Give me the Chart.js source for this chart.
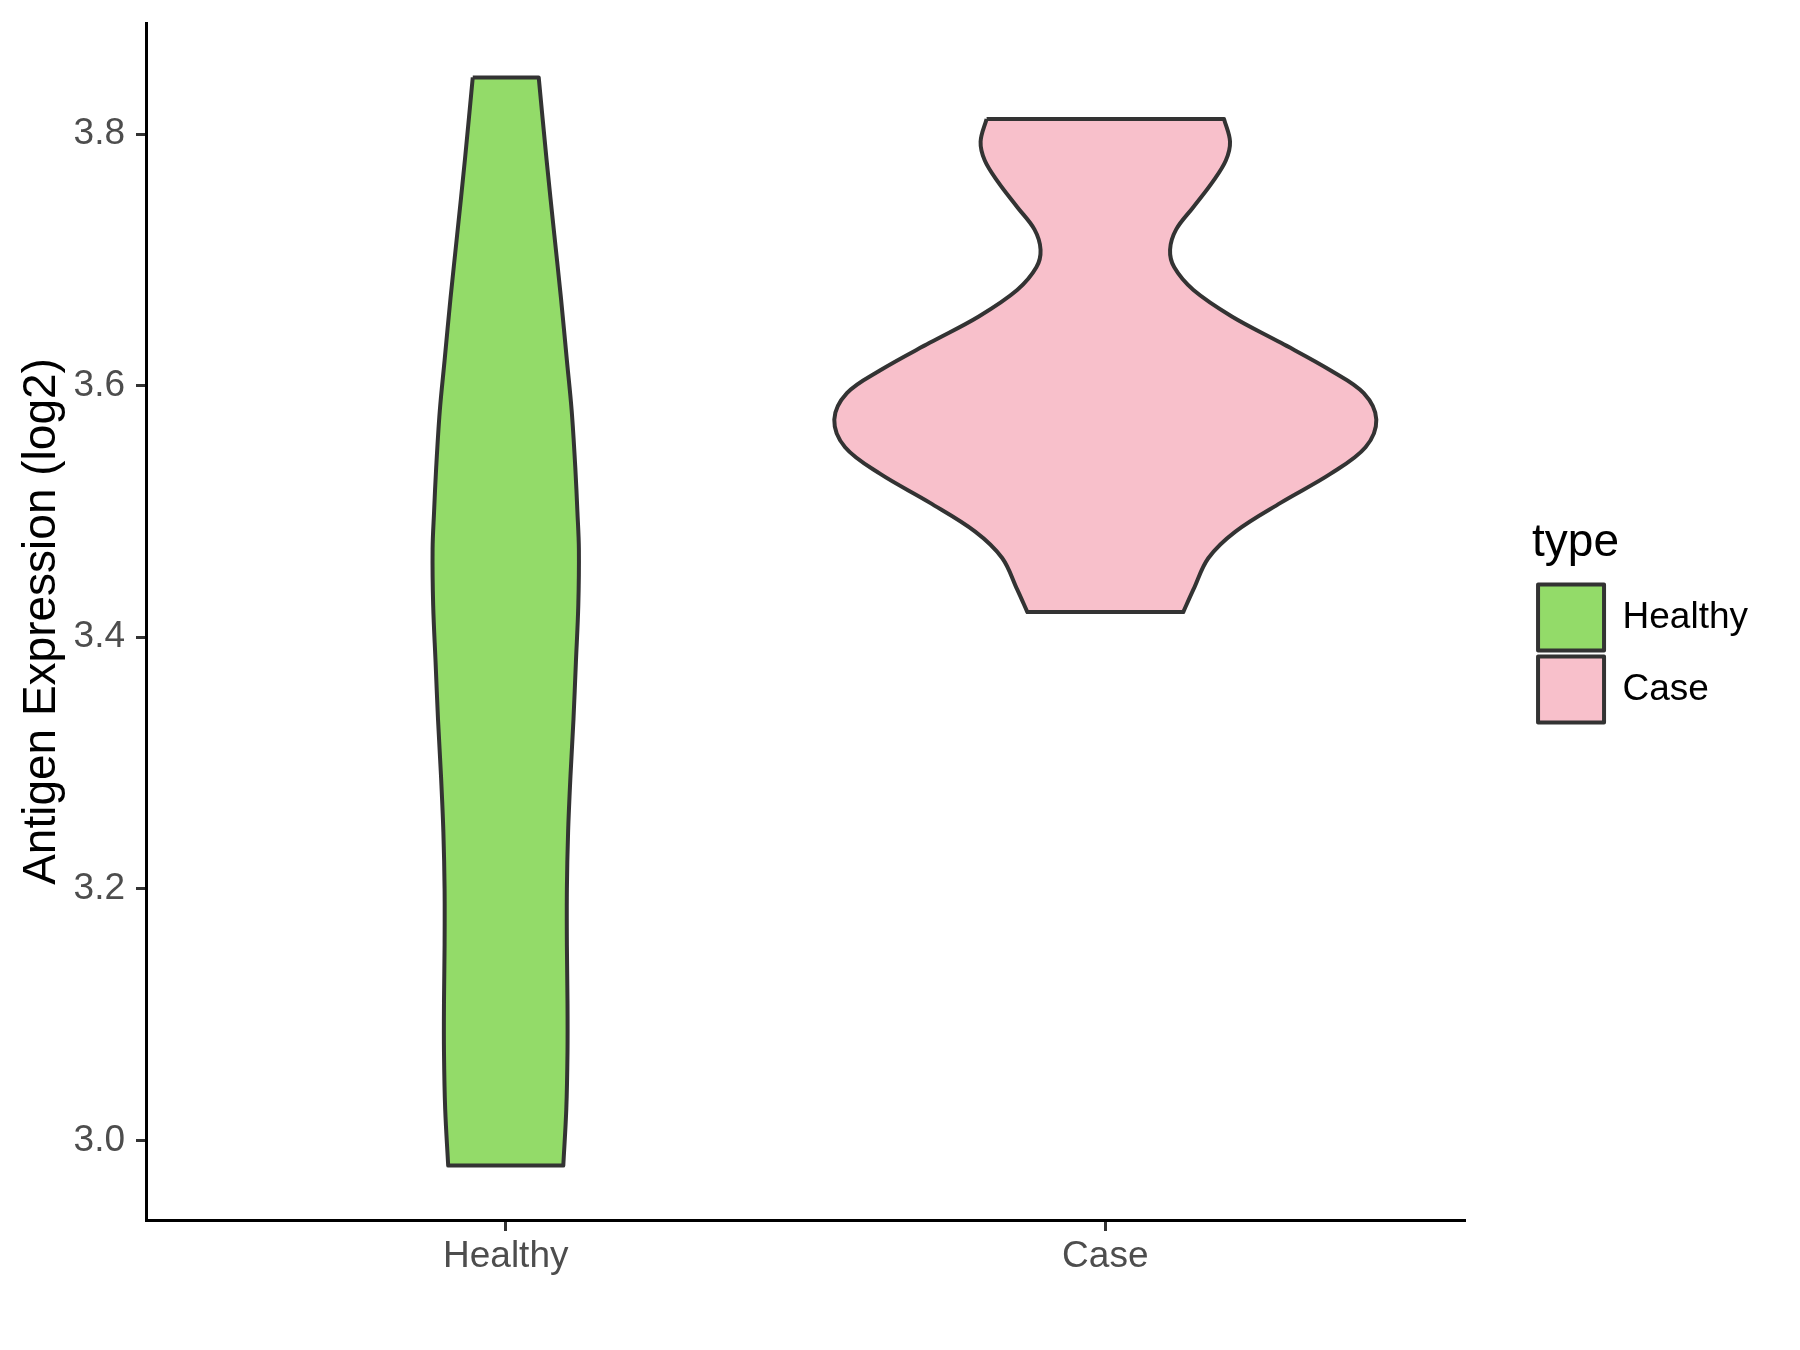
<!DOCTYPE html>
<html>
<head>
<meta charset="utf-8">
<script src="https://cdn.jsdelivr.net/npm/chart.js@4.4.1/dist/chart.umd.min.js"></script>
<style>
  html, body { margin: 0; padding: 0; background: #fff; }
</style>
</head>
<body>
<canvas id="myChart" width="1800" height="1350"></canvas>
<script>
// x axis groups
var categories = ['Healthy', 'Case'];

// Healthy violin: expression values from top to bottom, and half width of the violin at each
var healthyValues    = [3.845, 3.78, 3.72, 3.67, 3.62, 3.58, 3.535, 3.50, 3.47, 3.425, 3.38, 3.335, 3.29, 3.245, 3.20, 3.155, 3.11, 3.07, 3.025, 2.98];
var healthyHalfWidth = [0.055, 0.068, 0.081, 0.092, 0.102, 0.110, 0.116, 0.1195, 0.122, 0.121, 0.117, 0.113, 0.108, 0.104, 0.102, 0.102, 0.103, 0.103, 0.101, 0.096];

// Case violin
var caseValues    = [3.812, 3.794, 3.779, 3.762, 3.742, 3.724, 3.708, 3.694, 3.676, 3.655, 3.634, 3.612, 3.594, 3.573, 3.551, 3.530, 3.507, 3.484, 3.463, 3.438, 3.420];
var caseHalfWidth = [0.198, 0.208, 0.201, 0.179, 0.147, 0.118, 0.108, 0.115, 0.147, 0.211, 0.293, 0.376, 0.431, 0.452, 0.434, 0.376, 0.293, 0.217, 0.172, 0.147, 0.130];

var yTicks = [3.0, 3.2, 3.4, 3.6, 3.8];

var fillColors = ['#93DB69', '#F8C0CB'];
var fontFamily = '"Liberation Sans", Arial, Helvetica, sans-serif';

/*
# outline of one violin: down the left side, across the bottom, up the right side
# corners are doubled so the flat top and bottom stay straight with tension
*/
function violinOutline(pos, values, half) {
  var pts = [];
  var n = values.length;
  for (var i = 0; i < n; i++) {
    pts.push({x: pos - half[i], y: values[i]});
  }
  pts.push({x: pos - half[n - 1], y: values[n - 1]});
  for (var j = n - 1; j >= 0; j--) {
    pts.push({x: pos + half[j], y: values[j]});
    if (j === n - 1 || j === 0) pts.push({x: pos + half[j], y: values[j]});
  }
  pts.push({x: pos - half[0], y: values[0]});
  return pts;
}

// y range like ggplot: data range plus 5% each side
var allValues = healthyValues.concat(caseValues);
var lo = Math.min.apply(null, allValues);
var hi = Math.max.apply(null, allValues);
var expand = (hi - lo) * 0.05;

// fills the closed line path of each violin before its outline is drawn
var violinFill = {
  id: 'violinFill',
  beforeDatasetDraw: function(chart, args) {
    var meta = args.meta;
    var line = meta.dataset;
    var ctx = chart.ctx;
    line.updateControlPoints(chart.chartArea, meta.iScale.axis);
    ctx.save();
    ctx.beginPath();
    line.path(ctx);
    ctx.closePath();
    ctx.fillStyle = chart.data.datasets[args.index].backgroundColor;
    ctx.fill();
    ctx.restore();
  }
};

function violinDataset(i, values, half) {
  return {
    label: categories[i],
    data: violinOutline(i + 1, values, half),
    backgroundColor: fillColors[i],
    borderColor: '#333333',
    borderWidth: 4,
    borderJoinStyle: 'round',
    tension: 0.35,
    fill: false,
    pointRadius: 0,
    pointHoverRadius: 0
  };
}

var ctx = document.getElementById('myChart').getContext('2d');
var chart = new Chart(ctx, {
  type: 'line',
  data: {
    datasets: [
      violinDataset(0, healthyValues, healthyHalfWidth),
      violinDataset(1, caseValues, caseHalfWidth)
    ]
  },
  plugins: [violinFill],
  options: {
    responsive: false,
    animation: false,
    events: [],
    layout: { padding: { left: 0, top: 23, right: 42, bottom: 0 } },
    scales: {
      x: {
        type: 'linear',
        min: 0.4,
        max: 2.6,
        afterBuildTicks: function(scale) {
          scale.ticks = categories.map(function(c, i) { return {value: i + 1}; });
        },
        afterFit: function(scale) { scale.height = 130; },
        ticks: {
          autoSkip: false,
          maxRotation: 0,
          padding: 4,
          color: '#4D4D4D',
          font: { size: 37, family: fontFamily },
          callback: function(value) { return categories[value - 1]; }
        },
        grid: { display: true, drawOnChartArea: false, drawTicks: true, tickLength: 11, tickColor: '#333333', tickWidth: 3 },
        border: { display: true, color: '#000000', width: 3 }
      },
      y: {
        type: 'linear',
        min: lo - expand,
        max: hi + expand,
        afterBuildTicks: function(scale) {
          scale.ticks = yTicks.map(function(v) { return {value: v}; });
        },
        afterFit: function(scale) {
          scale.width = 146;
          scale.paddingTop = 0;
        },
        ticks: {
          padding: 11,
          color: '#4D4D4D',
          font: { size: 37, family: fontFamily },
          callback: function(value) { return value.toFixed(1); }
        },
        grid: { display: true, drawOnChartArea: false, drawTicks: true, tickLength: 10, tickColor: '#333333', tickWidth: 3 },
        border: { display: true, color: '#000000', width: 3 },
        title: {
          display: true,
          text: 'Antigen Expression (log2)',
          color: '#000000',
          padding: { top: 15, bottom: 0 },
          font: { size: 46, family: fontFamily }
        }
      },
      // empty space between the panel and the legend
      gap: {
        type: 'linear',
        position: 'right',
        display: true,
        grid: { display: false },
        ticks: { display: false },
        border: { display: false },
        afterFit: function(scale) { scale.width = 67; }
      }
    },
    plugins: {
      tooltip: { enabled: false },
      legend: {
        position: 'right',
        align: 'center',
        fullSize: false,
        title: {
          display: true,
          text: 'type',
          position: 'start',
          color: '#000000',
          padding: { top: 6, bottom: 3 },
          font: { size: 46, family: fontFamily }
        },
        labels: {
          boxWidth: 66,
          boxHeight: 66,
          padding: 6,
          color: '#000000',
          font: { size: 37, family: fontFamily }
        }
      }
    }
  }
});
</script>
</body>
</html>
